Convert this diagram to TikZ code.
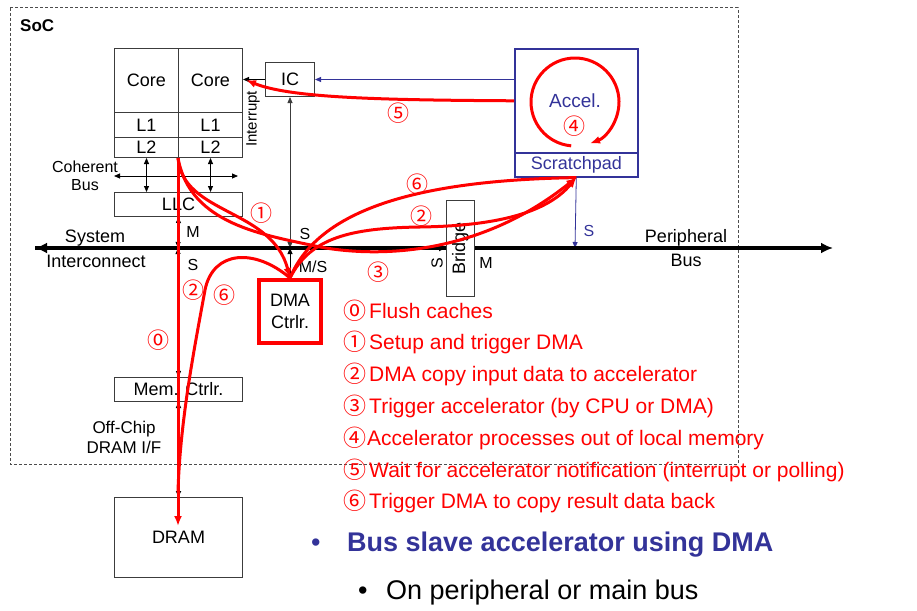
\documentclass[tikz,border=0pt]{standalone}
\usepackage{fontspec}
\setmainfont{Liberation Sans}
\newfontfamily\circfont{Noto Sans CJK JP}
\usetikzlibrary{arrows.meta}
\definecolor{accblue}{RGB}{51,51,153}
\definecolor{linegray}{RGB}{60,60,60}
\newcommand{\fsz}[1]{\fontsize{#1}{#1}\selectfont}
\newcommand{\legnum}[1]{\makebox[26pt][l]{\raisebox{-1pt}{\circfont\fsz{23}#1}}}
\begin{document}
\begin{tikzpicture}[x=1pt,y=-1pt,
  blk/.style={draw=linegray, line width=1pt, inner sep=0pt, anchor=north west, font=\fsz{18}},
  bluebox/.style={draw=accblue, line width=1.6pt, inner sep=0pt, anchor=north west, text=accblue, font=\fsz{18}},
  lbl/.style={inner sep=0pt, font=\fsz{16}},
  buslbl/.style={inner sep=0pt, font=\fsz{18}},
  cnum/.style={inner sep=0pt, text=red, font=\circfont\fsz{22}},
  legend/.style={inner sep=0pt, anchor=west, text=red, font=\fsz{21}},
  tip/.style={-{Triangle[length=6pt,width=5pt]}},
  twotip/.style={{Triangle[length=6pt,width=5pt]}-{Triangle[length=6pt,width=5pt]}},
  thinline/.style={draw=linegray, line width=0.8pt},
  busline/.style={line width=4pt, draw=black},
  redline/.style={draw=red, line width=3pt},
  redarr/.style={redline, -{Latex[length=10pt,width=8pt]}},
]
\useasboundingbox (0,0) rectangle (917,610);

% SoC boundary
\draw[draw=black!70, line width=1pt, dash pattern=on 3pt off 2pt] (10,8) rectangle (738,464);
\node[inner sep=0pt, anchor=west, font=\bfseries\fsz{17}] (soc) at (20,26) {SoC};

% CPU cluster
\node[blk, minimum width=64pt, minimum height=64pt] (corea) at (114,48) {Core};
\node[blk, minimum width=64pt, minimum height=64pt] (coreb) at (178,48) {Core};
\node[blk, minimum width=64pt, minimum height=25pt] (l1a) at (114,112) {L1};
\node[blk, minimum width=64pt, minimum height=25pt] (l1b) at (178,112) {L1};
\node[blk, minimum width=64pt, minimum height=20pt] (l2a) at (114,137) {L2};
\node[blk, minimum width=64pt, minimum height=20pt] (l2b) at (178,137) {L2};
\node[blk, minimum width=128pt, minimum height=24pt] (llc) at (114,192) {LLC};

% interrupt controller
\node[blk, minimum width=49pt, minimum height=34pt] (ic) at (265,62) {IC};
\node[lbl, rotate=90, font=\fsz{15}] (intr) at (253,119) {Interrupt};

% memory path
\node[blk, minimum width=128pt, minimum height=24pt] (mem) at (114,377) {Mem. Ctrlr.};
\node[blk, minimum width=128pt, minimum height=80pt] (dram) at (114,497) {DRAM};
\node[buslbl, align=center, font=\fsz{17}] (offchip) at (124,437) {Off-Chip\\[3pt]DRAM I/F};

% DMA, bridge, accelerator
\node[draw=red, line width=4pt, inner sep=0pt, minimum width=62pt, minimum height=63pt,
      align=center, font=\fsz{18}] (dma) at (290,311.5) {DMA\\[4pt]Ctrlr.};
\node[blk, minimum width=28pt, minimum height=96pt] (bridge) at (446,200) {};
\node[buslbl, rotate=90] (bridgetxt) at (bridge.center) {Bridge};
\node[bluebox, minimum width=123pt, minimum height=104pt] (accel) at (514,48) {};
\node[inner sep=0pt, text=accblue, font=\fsz{19}] (acceltxt) at (575,101) {Accel.};
\node[bluebox, minimum width=123pt, minimum height=24pt] (scratch) at (514,152) {Scratchpad};

% bus end points and taps
\coordinate (busL) at (35,248);
\coordinate (busR) at (833,248);
\coordinate (tapcpu) at (178,248);
\coordinate (tapic) at (290,248);
\coordinate (tapacc) at (575,248);

% coherent bus and cache links
\draw[thinline, draw=black, twotip] (114,176) coordinate (cohL) -- (238,176) coordinate (cohR);
\node[lbl, align=center] (cohtxt) at (85,176) {Coherent\\[2pt]Bus};
\draw[thinline, draw=black, twotip] (l2a.south) -- (l2a.south |- llc.north);
\draw[thinline, draw=black, twotip] (l2b.south) -- (l2b.south |- llc.north);

% links to the system interconnect
\draw[thinline, draw=black, twotip] (llc.south) -- (tapcpu);
\draw[thinline, draw=black, twotip] (tapcpu) -- (mem.north);
\draw[line width=1.6pt, draw=black, twotip] (mem.south) -- (dram.north);
\draw[thinline, twotip] (tapic) -- (ic.south);
\draw[thinline, draw=black, tip] (dma.north) -- (tapic);
\draw[thinline, draw=black, tip] (ic.west) -- (ic.west -| coreb.east);
\draw[line width=0.8pt, draw=accblue, tip] (accel.west |- ic.east) -- (ic.east);
\draw[line width=0.8pt, draw=accblue, tip] (scratch.south) -- (tapacc);

% buses
\draw[busline, -{Latex[length=12pt,width=11pt]}] (bridge.west |- busL) -- (busL);
\draw[busline, -{Latex[length=12pt,width=11pt]}] (bridge.east |- busR) -- (busR);
\draw[busline, -{Triangle[length=7pt,width=6pt]}] (busL) -- (bridge.west |- busL);

% bus labels
\node[buslbl] (systxt) at (95,238) {System};
\node[buslbl] (ictxt) at (96,261) {Interconnect};
\node[buslbl] (pertxt) at (686,238) {Peripheral};
\node[buslbl] (perbus) at (686,260) {Bus};
\node[lbl] (mcpu) at (193,232) {M};
\node[lbl] (scpu) at (193,265) {S};
\node[lbl] (sic) at (305,234) {S};
\node[lbl] (msdma) at (313,267) {M/S};
\node[lbl, rotate=90] (sbr) at (437,263) {S};
\node[lbl] (mbr) at (486,263) {M};
\node[lbl, text=accblue] (sacc) at (589,231) {S};

% data and control flows
\coordinate (cpuout) at (178,158);
\coordinate (dramin) at (178,526);
\coordinate (intin) at (246,80);
\coordinate (accelc) at (575,102);
\draw[redarr] (cpuout) -- (dramin);
\draw[redarr] (cpuout) .. controls (183,215) and (272,208) .. (dma.north);
\draw[redarr] (cpuout) .. controls (190,225) and (265,235) .. (320,247) .. controls (380,258) and (480,255) .. (scratch.south);
\draw[redarr] (dma.north) .. controls (310,238) and (350,228) .. (420,227) .. controls (490,226) and (545,215) .. (scratch.south);
\draw[redline] (scratch.south) .. controls (430,180) and (320,205) .. (dma.north);
\draw[redline] (dma.north) .. controls (255,248) and (213,250) .. (205,290) .. controls (195,345) and (180,420) .. (178,492);
\draw[redarr] (accel.west) .. controls (380,100) and (290,98) .. (intin);
\draw[redarr] ([shift={(95:44)}]accelc) arc[start angle=95, end angle=430, radius=44];

% step numbers
\node[cnum] (n0) at (158,340) {⓪};
\node[cnum] (n1) at (261,213) {①};
\node[cnum] (n2a) at (193,290) {②};
\node[cnum] (n6a) at (224,295) {⑥};
\node[cnum] (n2b) at (421,216) {②};
\node[cnum] (n6b) at (417,184) {⑥};
\node[cnum] (n3) at (378,272) {③};
\node[cnum] (n4) at (574,126) {④};
\node[cnum] (n5) at (398,113) {⑤};

% legend
\node[legend] (lg0) at (343,311) {\legnum{⓪}Flush caches};
\node[legend] (lg1) at (343,342) {\legnum{①}Setup and trigger DMA};
\node[legend] (lg2) at (343,374) {\legnum{②}DMA copy input data to accelerator};
\node[legend] (lg3) at (343,406) {\legnum{③}Trigger accelerator (by CPU or DMA)};
\node[legend] (lg4) at (343,438) {\legnum{④}\hspace{-2pt}Accelerator processes out of local memory};
\node[legend] (lg5) at (343,470) {\legnum{⑤}Wait for accelerator notification (interrupt or polling)};
\node[legend] (lg6) at (343,501) {\legnum{⑥}Trigger DMA to copy result data back};

% bullets
\node[inner sep=0pt, anchor=west, text=accblue, font=\fsz{27}] (b1) at (311,545) {•};
\node[inner sep=0pt, anchor=west, text=accblue, font=\bfseries\fsz{27}] (t1) at (347,545) {Bus slave accelerator using DMA};
\node[inner sep=0pt, anchor=west, font=\fsz{27}] (b2) at (358,593) {•};
\node[inner sep=0pt, anchor=west, font=\fsz{27}] (t2) at (386,593) {On peripheral or main bus};
\end{tikzpicture}
\end{document}
